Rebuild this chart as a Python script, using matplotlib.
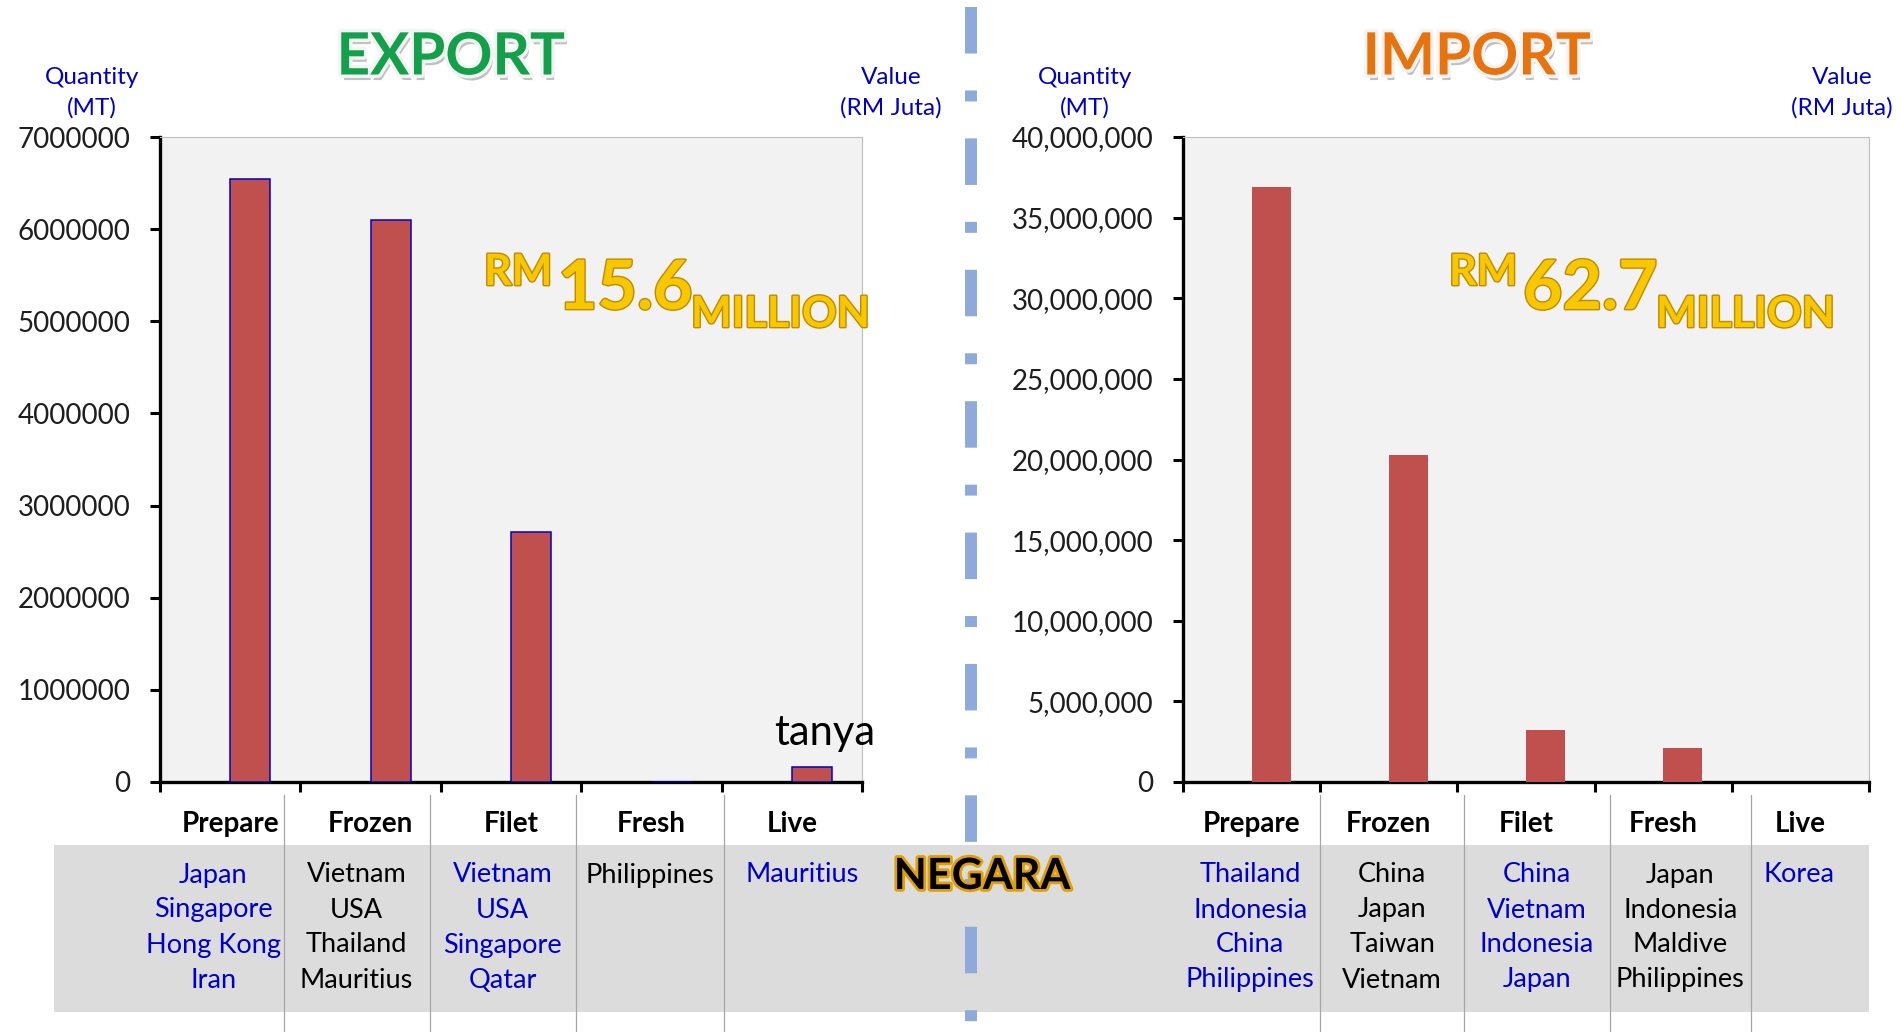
import matplotlib
matplotlib.use('Agg')
import matplotlib.pyplot as plt
import matplotlib.patheffects as pe
import matplotlib.transforms as mtrans
from matplotlib.patches import Rectangle
from matplotlib.lines import Line2D
from matplotlib.ticker import FuncFormatter
import numpy as np

plt.rcParams['font.family'] = ['Lato', 'DejaVu Sans']
plt.rcParams['lines.scale_dashes'] = False

# data
categories = ['Prepare', 'Frozen', 'Filet', 'Fresh', 'Live']
export_qty = [6540000, 6100000, 2715000, 0, 168000]
import_qty = [36900000, 20250000, 3230000, 2130000, 0]
export_countries = [['Japan', 'Singapore', 'Hong Kong', 'Iran'],
                    ['Vietnam', 'USA', 'Thailand', 'Mauritius'],
                    ['Vietnam', 'USA', 'Singapore', 'Qatar'],
                    ['Philippines'],
                    ['Mauritius']]
import_countries = [['Thailand', 'Indonesia', 'China', 'Philippines'],
                    ['China', 'Japan', 'Taiwan', 'Vietnam'],
                    ['China', 'Vietnam', 'Indonesia', 'Japan'],
                    ['Japan', 'Indonesia', 'Maldive', 'Philippines'],
                    ['Korea']]
export_value = '15.6'
import_value = '62.7'

W, H = 1901, 1032
BLUE = '#0000cc'
BAR = '#c0504d'
TXT = '#1e1e1e'


def fx(x):
    return x / W


def fy(y):
    return 1 - y / H


fig = plt.figure(figsize=(W / 100, H / 100), dpi=100)

# grey country band
fig.patches.append(Rectangle((fx(54), fy(1012)), fx(1869) - fx(54), fy(845) - fy(1012),
                             transform=fig.transFigure, facecolor='#dcdcdc',
                             edgecolor='none', zorder=-1))


def panel(left, right, qty, ymax, ystep, fmt, edge, countries, dividers, bounds,
          value, rm_x, title, title_color, title_x, qlab_x, vlab_x):
    ax = fig.add_axes([fx(left), fy(782), fx(right) - fx(left), fy(137) - fy(782)])
    ax.set_facecolor('#f2f2f2')
    x = np.arange(len(categories))
    if edge:
        ax.bar(x + 0.143, qty, width=0.286, color=BAR, edgecolor=edge, linewidth=1.1, zorder=3)
    else:
        ax.bar(x + 0.143, qty, width=0.286, color=BAR, linewidth=0, zorder=3)
    ax.set_xlim(-0.5, len(categories) - 0.5)
    ax.set_ylim(0, ymax)
    ax.set_yticks(np.arange(0, ymax + 1, ystep))
    ax.yaxis.set_major_formatter(FuncFormatter(fmt))
    ax.set_xticks(x, categories, fontweight='bold', fontsize=20, color='black')
    ax.set_xticks(np.arange(-0.5, len(categories)), minor=True)
    ax.tick_params(axis='x', which='major', length=0, pad=21)
    ax.tick_params(axis='x', which='minor', length=7.5, width=2.2, direction='out')
    ax.tick_params(axis='y', length=7.5, width=2.2, labelsize=20, labelcolor=TXT, pad=14)
    for s in ['left', 'bottom']:
        ax.spines[s].set_linewidth(2.4)
        ax.spines[s].set_color('black')
    for s in ['top', 'right']:
        ax.spines[s].set_linewidth(0.8)
        ax.spines[s].set_color('#bdbdbd')

    # table of countries under the axis
    tr = mtrans.blended_transform_factory(ax.transData, fig.transFigure)
    for d in dividers:
        ax.add_line(Line2D([d, d], [fy(795), 0], transform=tr, color='#a6a6a6',
                           linewidth=0.9, clip_on=False))
    edges = [bounds[0]] + dividers + [bounds[1]]
    for i, names in enumerate(countries):
        cx = (edges[i] + edges[i + 1]) / 2
        col = BLUE if i % 2 == 0 else 'black'
        for k, name in enumerate(names):
            ax.text(cx, fy(875 + 35 * k), name, transform=tr, ha='center', va='center',
                    fontsize=19.5, color=col, clip_on=False)

    # titles and axis captions
    fig.text(fx(title_x), fy(58), title, ha='center', va='center', fontsize=42,
             fontweight='bold', color=title_color,
             path_effects=[pe.SimplePatchShadow(offset=(2, -4), shadow_rgbFace='#777777', alpha=0.45),
                           pe.Stroke(linewidth=5, foreground='#f4f4f4'), pe.Normal()])
    fig.text(fx(qlab_x), fy(93), 'Quantity\n(MT)', ha='center', va='center',
             fontsize=17.5, color=BLUE, linespacing=1.5)
    fig.text(fx(vlab_x), fy(93), 'Value\n(RM Juta)', ha='center', va='center',
             fontsize=17.5, color=BLUE, linespacing=1.5)

    # RM value in gold
    gold = dict(fontweight='bold', color='#f7c800',
                path_effects=[pe.Stroke(linewidth=2, foreground='#c08a00'), pe.Normal()])
    fig.text(fx(rm_x), fy(285), 'RM', ha='left', va='baseline', fontsize=31, **gold)
    fig.text(fx(rm_x + 74), fy(309), value, ha='left', va='baseline', fontsize=49, **gold)
    fig.text(fx(rm_x + 207), fy(327), 'MILLION', ha='left', va='baseline', fontsize=31, **gold)
    return ax


ax1 = panel(160, 862, export_qty, 7000000, 1000000, lambda v, p: '%d' % v, BLUE,
            export_countries, [0.38, 1.42, 2.46, 3.52], [-0.62, 4.62],
            export_value, 484, 'EXPORT', '#12a04a', 451, 92, 891)
ax2 = panel(1183, 1869, import_qty, 40000000, 5000000, lambda v, p: '{:,.0f}'.format(v), None,
            import_countries, [0.50, 1.55, 2.61, 3.64], [-0.52, 4.34],
            import_value, 1449, 'IMPORT', '#e8720c', 1477, 1085, 1842)

fig.text(fx(825), fy(733), 'tanya', ha='center', va='center', fontsize=30, color='black')

# dashed divider between the two panels
fig.lines.append(Line2D([fx(971), fx(971)], [fy(7), 0], transform=fig.transFigure,
                        color='#8eaadb', linewidth=8.6, dashes=(33.5, 26.6, 7.9, 26.6),
                        dash_capstyle='butt', zorder=2))

fig.text(fx(982), fy(876), 'NEGARA', ha='center', va='center', fontsize=31,
         fontweight='bold', color='black', zorder=5,
         path_effects=[pe.Stroke(linewidth=4, foreground='#e0a000'), pe.Normal()])

fig.savefig('out.png', dpi=100)
